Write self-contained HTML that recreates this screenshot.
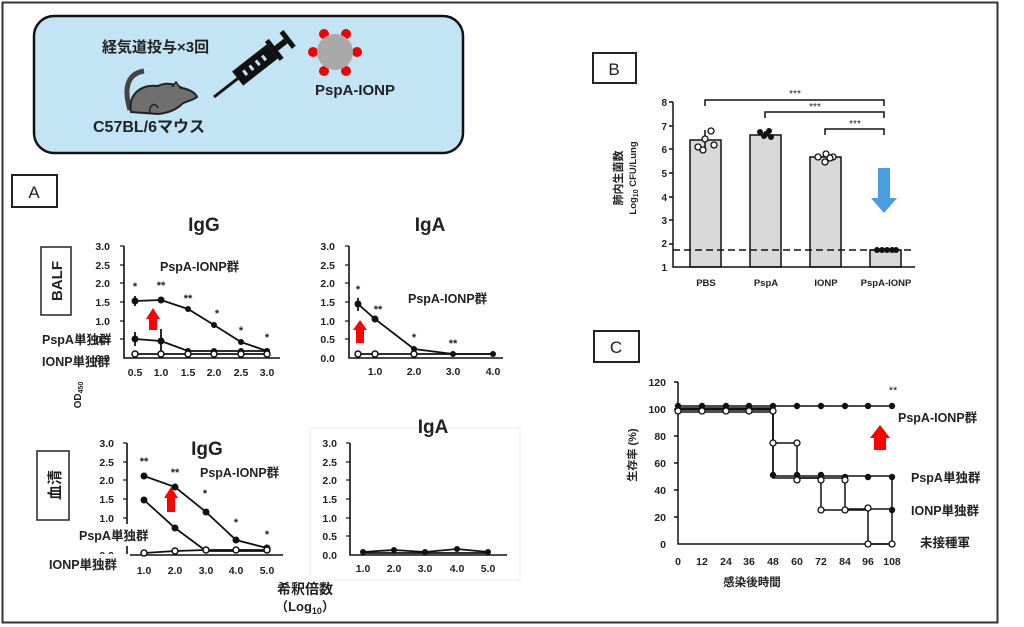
<!DOCTYPE html>
<html><head><meta charset="utf-8"><style>
html,body{margin:0;padding:0;background:#fff;}
svg{display:block;}
text{font-family:"Liberation Sans","Noto Sans CJK JP",sans-serif;fill:#222;}
.b{font-weight:bold;}
</style></head><body>
<svg width="1024" height="627" viewBox="0 0 1024 627" xmlns="http://www.w3.org/2000/svg">
<rect x="2.5" y="2.5" width="995" height="620" fill="#fff" stroke="#333" stroke-width="2"/>

<!-- Banner -->
<rect x="34" y="16" width="429" height="137" rx="20" fill="#c2e4f4" stroke="#111" stroke-width="2.5"/>
<text x="102" y="52" font-size="15" class="b">経気道投与×3回</text>
<text x="93" y="132" font-size="16" class="b">C57BL/6マウス</text>
<text x="315" y="95" font-size="15" class="b">PspA-IONP</text>
<!-- mouse -->
<path d="M130,110 C124,90 126,74 144,71" fill="none" stroke="#444" stroke-width="5"/>
<path d="M131,112 C128,95 140,84 158,86 C166,82 176,84 182,88 C188,89 195,92 197,97 C192,101 186,101 182,104 C176,110 168,113 158,114 Z" fill="#6f6f6f" stroke="#222" stroke-width="2"/>
<path d="M172,87 L176,82 L181,89" fill="#6f6f6f" stroke="#222" stroke-width="1.5"/>
<path d="M150,114 C148,104 156,102 158,108" fill="none" stroke="#222" stroke-width="1.5"/>
<!-- syringe -->
<g transform="translate(214,97) rotate(-38)">
<line x1="0" y1="0" x2="30" y2="0" stroke="#111" stroke-width="3"/>
<rect x="30" y="-9" width="44" height="18" fill="#111"/>
<rect x="38" y="-3" width="3" height="6" fill="#c2e4f4"/><rect x="46" y="-3" width="3" height="6" fill="#c2e4f4"/><rect x="54" y="-3" width="3" height="6" fill="#c2e4f4"/><rect x="62" y="-3" width="3" height="6" fill="#c2e4f4"/>
<rect x="74" y="-12" width="5" height="24" fill="#111"/>
<rect x="79" y="-3" width="12" height="6" fill="#111"/>
<rect x="91" y="-10" width="5" height="20" fill="#111"/>
</g>
<!-- particle -->
<circle cx="324" cy="34" r="5" fill="#e00"/><circle cx="346" cy="34" r="5" fill="#e00"/>
<circle cx="313" cy="52" r="5" fill="#e00"/><circle cx="357" cy="52" r="5" fill="#e00"/>
<circle cx="324" cy="71" r="5" fill="#e00"/><circle cx="346" cy="71" r="5" fill="#e00"/>
<circle cx="335" cy="52" r="18" fill="#a9a9a9"/>

<!-- Panel A -->
<rect x="12" y="175" width="45" height="32" fill="#fff" stroke="#222" stroke-width="2"/>
<text x="34" y="198" font-size="17" text-anchor="middle">A</text>
<text x="204" y="231" font-size="19" text-anchor="middle" class="b">IgG</text>
<text x="430" y="231" font-size="19" text-anchor="middle" class="b">IgA</text>
<rect x="310" y="428" width="210" height="152" fill="none" stroke="#eee"/>
<text x="207" y="455" font-size="19" text-anchor="middle" class="b">IgG</text>
<text x="433" y="433" font-size="19" text-anchor="middle" class="b">IgA</text>
<rect x="41" y="247" width="30" height="68" fill="#fff" stroke="#222" stroke-width="1.5"/>
<text transform="translate(62,281) rotate(-90)" font-size="15" text-anchor="middle" class="b">BALF</text>
<rect x="37" y="451" width="32" height="69" fill="#fff" stroke="#222" stroke-width="1.5"/>
<text transform="translate(60,485) rotate(-90)" font-size="15" text-anchor="middle" class="b">血清</text>
<text transform="translate(81,395) rotate(-90)" font-size="10" text-anchor="middle" class="b">OD<tspan font-size="7" dy="2">450</tspan></text>

<g font-size="10.5" class="b" text-anchor="end">
<text x="110" y="250">3.0</text><text x="110" y="269">2.5</text><text x="110" y="287">2.0</text><text x="110" y="306">1.5</text><text x="110" y="325">1.0</text><text x="110" y="343">0.5</text><text x="110" y="362">0.0</text>
<text x="335" y="250">3.0</text><text x="335" y="269">2.5</text><text x="335" y="287">2.0</text><text x="335" y="306">1.5</text><text x="335" y="325">1.0</text><text x="335" y="343">0.5</text><text x="335" y="362">0.0</text>
<text x="114" y="447">3.0</text><text x="114" y="466">2.5</text><text x="114" y="484">2.0</text><text x="114" y="503">1.5</text><text x="114" y="522">1.0</text><text x="114" y="540">0.5</text><text x="114" y="559">0.0</text>
<text x="337" y="447">3.0</text><text x="337" y="466">2.5</text><text x="337" y="484">2.0</text><text x="337" y="503">1.5</text><text x="337" y="522">1.0</text><text x="337" y="540">0.5</text><text x="337" y="559">0.0</text>
</g>
<g font-size="10.5" class="b" text-anchor="middle">
<text x="135" y="376">0.5</text><text x="161" y="376">1.0</text><text x="188" y="376">1.5</text><text x="214" y="376">2.0</text><text x="241" y="376">2.5</text><text x="267" y="376">3.0</text>
<text x="375" y="375">1.0</text><text x="414" y="375">2.0</text><text x="453" y="375">3.0</text><text x="493" y="375">4.0</text>
<text x="144" y="574">1.0</text><text x="175" y="574">2.0</text><text x="206" y="574">3.0</text><text x="236" y="574">4.0</text><text x="267" y="574">5.0</text>
<text x="363" y="572">1.0</text><text x="394" y="572">2.0</text><text x="425" y="572">3.0</text><text x="457" y="572">4.0</text><text x="488" y="572">5.0</text>
</g>

<g stroke="#111" stroke-width="1.6" fill="none">
<polyline points="124,246 124,358 280,358"/>
<polyline points="349,246 349,358 503,358"/>
<polyline points="127,443 127,555 283,555"/>
<polyline points="350,443 350,555 507,555"/>
</g>
<g stroke="#111" stroke-width="1.2">
<line x1="120" y1="246" x2="124" y2="246"/><line x1="120" y1="265" x2="124" y2="265"/><line x1="120" y1="283" x2="124" y2="283"/><line x1="120" y1="302" x2="124" y2="302"/><line x1="120" y1="321" x2="124" y2="321"/><line x1="120" y1="339" x2="124" y2="339"/>
<line x1="345" y1="246" x2="349" y2="246"/><line x1="345" y1="265" x2="349" y2="265"/><line x1="345" y1="283" x2="349" y2="283"/><line x1="345" y1="302" x2="349" y2="302"/><line x1="345" y1="321" x2="349" y2="321"/><line x1="345" y1="339" x2="349" y2="339"/>
<line x1="123" y1="443" x2="127" y2="443"/><line x1="123" y1="462" x2="127" y2="462"/><line x1="123" y1="480" x2="127" y2="480"/><line x1="123" y1="499" x2="127" y2="499"/><line x1="123" y1="518" x2="127" y2="518"/><line x1="123" y1="536" x2="127" y2="536"/>
<line x1="346" y1="443" x2="350" y2="443"/><line x1="346" y1="462" x2="350" y2="462"/><line x1="346" y1="480" x2="350" y2="480"/><line x1="346" y1="499" x2="350" y2="499"/><line x1="346" y1="518" x2="350" y2="518"/><line x1="346" y1="536" x2="350" y2="536"/>
</g>

<g stroke="#111" stroke-width="1.8" fill="none">
<polyline points="135,301 161,300 188,309 214,325 241,342 267,351"/>
<polyline points="135,339 161,341 188,351 214,351 241,351 267,351"/>
<polyline points="135,354 161,354 188,354 214,354 241,354 267,354"/>
<line x1="135" y1="296" x2="135" y2="306"/><line x1="135" y1="332" x2="135" y2="346"/><line x1="161" y1="329" x2="161" y2="353"/>
<polyline points="358,304 375,319 414,349 453,354 493,354"/>
<polyline points="358,354 375,354 414,354 453,354 493,354"/>
<line x1="358" y1="298" x2="358" y2="311"/>
<polyline points="144,476 175,487 206,512 236,540 267,548"/>
<polyline points="144,500 175,528 206,551 236,551 267,551"/>
<polyline points="144,553 175,551 206,550 236,550 267,550"/>
<polyline points="363,552 394,550 425,552 457,549 488,552"/>
<polyline points="363,553 394,553 425,553 457,553 488,553"/>
</g>
<g fill="#111">
<circle cx="135" cy="301" r="3.5"/><circle cx="161" cy="300" r="3.5"/><circle cx="188" cy="309" r="3"/><circle cx="214" cy="325" r="3"/><circle cx="241" cy="342" r="3"/><circle cx="267" cy="351" r="3"/>
<circle cx="135" cy="339" r="3.5"/><circle cx="161" cy="341" r="3.5"/><circle cx="188" cy="351" r="3"/><circle cx="214" cy="351" r="3"/><circle cx="241" cy="351" r="3"/><circle cx="267" cy="351" r="3"/>
<circle cx="358" cy="304" r="3.5"/><circle cx="375" cy="319" r="3.5"/><circle cx="414" cy="349" r="3"/><circle cx="453" cy="354" r="3"/><circle cx="493" cy="354" r="3"/>
<circle cx="144" cy="476" r="3.5"/><circle cx="175" cy="487" r="3.5"/><circle cx="206" cy="512" r="3.5"/><circle cx="236" cy="540" r="3.5"/><circle cx="267" cy="548" r="3.5"/>
<circle cx="144" cy="500" r="3.5"/><circle cx="175" cy="528" r="3.5"/>
<circle cx="363" cy="552" r="3"/><circle cx="394" cy="550" r="3"/><circle cx="425" cy="552" r="3"/><circle cx="457" cy="549" r="3"/><circle cx="488" cy="552" r="3"/>
</g>
<g fill="#fff" stroke="#111" stroke-width="1.5">
<circle cx="135" cy="354" r="3"/><circle cx="161" cy="354" r="3"/><circle cx="188" cy="354" r="3"/><circle cx="214" cy="354" r="3"/><circle cx="241" cy="354" r="3"/><circle cx="267" cy="354" r="3"/>
<circle cx="358" cy="354" r="3"/><circle cx="375" cy="354" r="3"/><circle cx="414" cy="354" r="3"/>
<circle cx="144" cy="553" r="3"/><circle cx="175" cy="551" r="3"/><circle cx="206" cy="550" r="3"/><circle cx="236" cy="550" r="3"/><circle cx="267" cy="550" r="3"/>
</g>
<g font-size="11" class="b" text-anchor="middle" fill="#333">
<text x="135" y="290">*</text><text x="161" y="289">**</text><text x="188" y="302">**</text><text x="217" y="317">*</text><text x="241" y="334">*</text><text x="267" y="341">*</text>
<text x="358" y="293">*</text><text x="378" y="313">**</text><text x="414" y="341">*</text><text x="453" y="347">**</text>
<text x="144" y="465">**</text><text x="175" y="476">**</text><text x="205" y="497">*</text><text x="236" y="526">*</text><text x="267" y="538">*</text>
</g>
<g font-size="12.5" class="b">
<text x="160" y="271">PspA-IONP群</text>
<text x="408" y="303">PspA-IONP群</text>
<text x="200" y="477">PspA-IONP群</text>
<text x="42" y="344">PspA単独群</text>
<text x="42" y="366">IONP単独群</text>
</g>
<rect x="72" y="524" width="88" height="22" fill="#fff"/>
<text x="79" y="540" font-size="12.5" class="b">PspA単独群</text>
<rect x="40" y="554" width="90" height="22" fill="#fff"/>
<text x="49" y="569" font-size="12.5" class="b">IONP単独群</text>
<g fill="#f00">
<polygon points="146,319 153,308 160,319 157,319 157,330 149,330 149,319"/>
<polygon points="353,330 360,320 367,330 364,330 364,343 356,343 356,330"/>
<polygon points="164,498 171,487 178,498 175,498 175,512 167,512 167,498"/>
<polygon points="870,438 880,425 890,438 886,438 886,450 874,450 874,438"/>
</g>
<text x="305" y="594" font-size="14" text-anchor="middle" class="b">希釈倍数</text>
<text x="305" y="611" font-size="13" text-anchor="middle" class="b">（Log<tspan font-size="9" dy="3">10</tspan><tspan dy="-3">）</tspan></text>

<!-- Panel B -->
<rect x="593" y="53" width="43" height="30" fill="#fff" stroke="#222" stroke-width="2"/>
<text x="614" y="75" font-size="17" text-anchor="middle">B</text>
<g font-size="10" class="b" text-anchor="end">
<text x="667" y="106">8</text><text x="667" y="130">7</text><text x="667" y="153">6</text><text x="667" y="177">5</text><text x="667" y="201">4</text><text x="667" y="224">3</text><text x="667" y="247">2</text><text x="667" y="271">1</text>
</g>
<g fill="#d9d9d9" stroke="#111" stroke-width="1.5">
<rect x="690" y="140" width="31" height="127"/>
<rect x="750" y="135" width="31" height="132"/>
<rect x="810" y="157" width="31" height="110"/>
<rect x="870" y="250" width="31" height="17"/>
</g>
<g stroke="#111" stroke-width="1.5" fill="none">
<polyline points="673,102 673,267 915,267"/>
<line x1="669" y1="102" x2="673" y2="102"/><line x1="669" y1="126" x2="673" y2="126"/><line x1="669" y1="149" x2="673" y2="149"/><line x1="669" y1="173" x2="673" y2="173"/><line x1="669" y1="197" x2="673" y2="197"/><line x1="669" y1="220" x2="673" y2="220"/><line x1="669" y1="244" x2="673" y2="244"/>
<line x1="673" y1="250" x2="915" y2="250" stroke-dasharray="7,4"/>
<polyline points="705,106 705,100 884,100 884,106"/>
<polyline points="765,118 765,112 884,112 884,118"/>
<polyline points="825,135 825,129 884,129 884,135"/>
<line x1="705" y1="130" x2="705" y2="148"/>
</g>
<g fill="#fff" stroke="#111" stroke-width="1.3">
<circle cx="698" cy="147" r="3"/><circle cx="711" cy="131" r="3"/><circle cx="705" cy="139" r="3"/><circle cx="703" cy="150" r="3"/><circle cx="714" cy="145" r="3"/>
<circle cx="818" cy="157" r="3"/><circle cx="826" cy="154" r="3"/><circle cx="833" cy="157" r="3"/><circle cx="825" cy="162" r="3"/><circle cx="830" cy="158" r="3"/>
</g>
<g fill="#111">
<circle cx="760" cy="132" r="3"/><circle cx="769" cy="131" r="3"/><circle cx="764" cy="136" r="3"/><circle cx="771" cy="137" r="3"/><circle cx="766" cy="134" r="3"/>
<circle cx="877" cy="250" r="3"/><circle cx="882" cy="250" r="3"/><circle cx="887" cy="250" r="3"/><circle cx="892" cy="250" r="3"/><circle cx="896" cy="250" r="3"/>
</g>
<g font-size="10" text-anchor="middle" fill="#333">
<text x="795" y="97">***</text><text x="815" y="110">***</text><text x="855" y="127">***</text>
</g>
<polygon points="878,168 890,168 890,198 897,198 884,213 871,198 878,198" fill="#4a9de0"/>
<g font-size="9.5" class="b" text-anchor="middle">
<text x="706" y="286">PBS</text><text x="766" y="286">PspA</text><text x="826" y="286">IONP</text><text x="886" y="286">PspA-IONP</text>
</g>
<text transform="translate(622,178) rotate(-90)" font-size="11" text-anchor="middle" class="b">肺内生菌数</text>
<text transform="translate(636,178) rotate(-90)" font-size="9.5" text-anchor="middle" class="b">Log<tspan font-size="7" dy="2">10</tspan><tspan dy="-2"> CFU/Lung</tspan></text>

<!-- Panel C -->
<rect x="594" y="331" width="45" height="31" fill="#fff" stroke="#222" stroke-width="2"/>
<text x="616" y="353" font-size="17" text-anchor="middle">C</text>
<g font-size="10.5" class="b" text-anchor="end">
<text x="666" y="386">120</text><text x="666" y="413">100</text><text x="666" y="440">80</text><text x="666" y="467">60</text><text x="666" y="494">40</text><text x="666" y="521">20</text><text x="666" y="548">0</text>
</g>
<g font-size="10.5" class="b" text-anchor="middle">
<text x="678" y="565">0</text><text x="702" y="565">12</text><text x="726" y="565">24</text><text x="749" y="565">36</text><text x="773" y="565">48</text><text x="797" y="565">60</text><text x="821" y="565">72</text><text x="845" y="565">84</text><text x="868" y="565">96</text><text x="892" y="565">108</text>
</g>
<text x="752" y="586" font-size="11.5" text-anchor="middle" class="b">感染後時間</text>
<text transform="translate(636,455) rotate(-90)" font-size="11" text-anchor="middle" class="b">生存率 (%)</text>
<g stroke="#111" stroke-width="1.5" fill="none">
<polyline points="678,382 678,544 892,544"/>
<line x1="674" y1="382" x2="678" y2="382"/><line x1="674" y1="409" x2="678" y2="409"/><line x1="674" y1="436" x2="678" y2="436"/><line x1="674" y1="463" x2="678" y2="463"/><line x1="674" y1="490" x2="678" y2="490"/><line x1="674" y1="517" x2="678" y2="517"/>
<polyline points="678,406 892,406"/>
<polyline points="678,408 773,408 773,476 892,476 892,544"/>
<polyline points="678,410 773,410 773,478 845,478 845,509 892,509"/>
<polyline points="678,412 773,412 773,443 797,443 797,478 821,478 821,510 868,510 868,544 892,544"/>
<line x1="678" y1="409" x2="773" y2="409"/>
</g>
<g fill="#111">
<circle cx="678" cy="406" r="3.2"/><circle cx="702" cy="406" r="3.2"/><circle cx="726" cy="406" r="3.2"/><circle cx="749" cy="406" r="3.2"/><circle cx="773" cy="406" r="3.2"/><circle cx="797" cy="406" r="3.2"/><circle cx="821" cy="406" r="3.2"/><circle cx="845" cy="406" r="3.2"/><circle cx="868" cy="406" r="3.2"/><circle cx="892" cy="406" r="3.2"/>
<circle cx="773" cy="475" r="3.2"/><circle cx="797" cy="475" r="3.2"/><circle cx="821" cy="475" r="3.2"/><circle cx="845" cy="477" r="3.2"/><circle cx="868" cy="477" r="3.2"/><circle cx="892" cy="477" r="3.2"/><circle cx="892" cy="510" r="3.2"/>
</g>
<g fill="#fff" stroke="#111" stroke-width="1.3">
<circle cx="678" cy="411" r="3"/><circle cx="702" cy="411" r="3"/><circle cx="726" cy="411" r="3"/><circle cx="749" cy="411" r="3"/><circle cx="773" cy="411" r="3"/>
<circle cx="773" cy="443" r="3"/><circle cx="797" cy="443" r="3"/><circle cx="797" cy="480" r="3"/><circle cx="821" cy="480" r="3"/><circle cx="821" cy="510" r="3"/><circle cx="845" cy="510" r="3"/><circle cx="868" cy="508" r="3"/><circle cx="868" cy="544" r="3"/><circle cx="892" cy="544" r="3"/><circle cx="845" cy="480" r="3"/>
</g>
<text x="893" y="394" font-size="11" text-anchor="middle" fill="#444">**</text>
<g font-size="12.5" class="b">
<text x="898" y="422">PspA-IONP群</text>
<text x="911" y="482">PspA単独群</text>
<text x="911" y="515">IONP単独群</text>
<text x="920" y="547">未接種軍</text>
</g>
</svg>
</body></html>
